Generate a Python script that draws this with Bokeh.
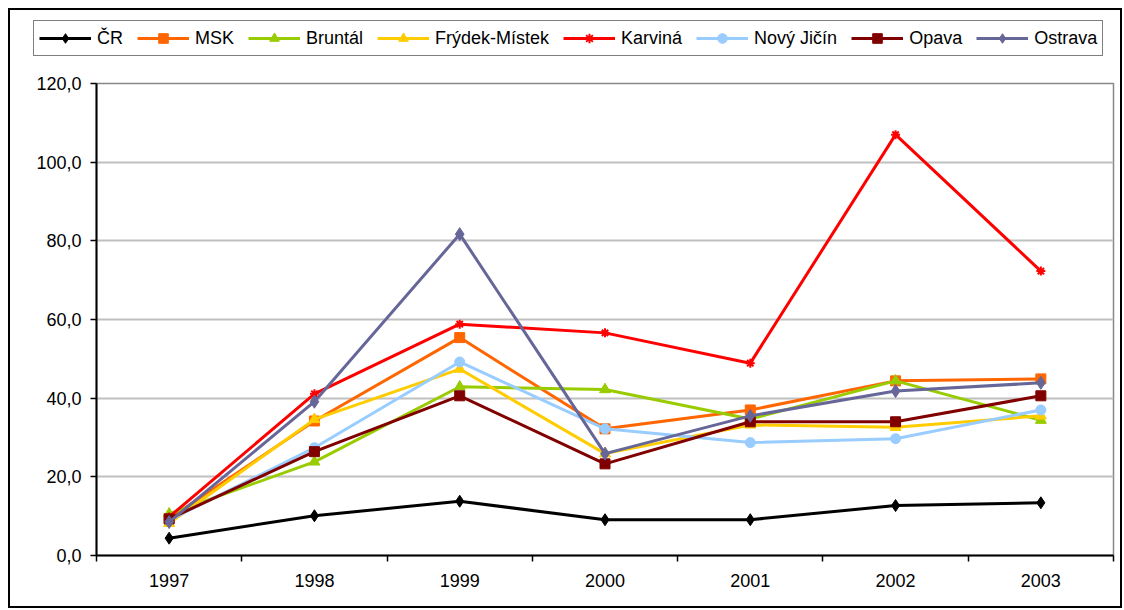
from bokeh.plotting import figure
from bokeh.layouts import column
from bokeh.models import FixedTicker, Legend, LegendItem
from bokeh.embed import file_html
from bokeh.resources import INLINE

years = ["1997", "1998", "1999", "2000", "2001", "2002", "2003"]
cr = [4.4, 10.1, 13.8, 9.1, 9.1, 12.7, 13.4]
msk = [9.4, 34.2, 55.4, 32.2, 37.0, 44.4, 44.9]
bruntal = [10.6, 23.8, 42.9, 42.2, 34.7, 44.4, 34.4]
frydek = [8.2, 34.6, 47.4, 25.9, 33.2, 32.6, 35.5]
karvina = [9.8, 41.1, 58.8, 56.6, 48.9, 107.0, 72.3]
novy_jicin = [9.0, 27.4, 49.2, 32.2, 28.7, 29.7, 37.0]
opava = [9.3, 26.4, 40.6, 23.3, 34.0, 34.0, 40.6]
ostrava = [8.5, 39.1, 81.7, 25.9, 35.5, 41.8, 43.9]

names = ["ČR", "MSK", "Bruntál", "Frýdek-Místek", "Karviná", "Nový Jičín", "Opava", "Ostrava"]
series = [cr, msk, bruntal, frydek, karvina, novy_jicin, opava, ostrava]
colors = ["#000000", "#FF6600", "#99CC00", "#FFCC00", "#FF0000", "#99CCFF", "#800000", "#666699"]
markers = ["diamond", "square", "triangle", "triangle", "asterisk", "circle", "square", "diamond"]
sizes = [12, 10, 11, 11, 9, 10, 10, 13]

y_ticks = [0, 20, 40, 60, 80, 100, 120]
y_tick_labels = ["0,0", "20,0", "40,0", "60,0", "80,0", "100,0", "120,0"]

xpos = list(range(len(years)))
FONT = "Liberation Sans"

# ---- main chart ----
p = figure(width=1110, height=538, output_backend="svg", toolbar_location=None,
           x_range=(-0.5, len(years) - 0.5), y_range=(0, 120),
           min_border_left=86, min_border_right=7, min_border_top=15, min_border_bottom=51)
p.frame_align = False
p.background_fill_color = "white"
p.border_fill_color = "white"
p.outline_line_color = "#888888"
p.outline_line_width = 1.5

p.xaxis.ticker = FixedTicker(ticks=xpos, minor_ticks=[i - 0.5 for i in range(len(years) + 1)])
p.xaxis.major_label_overrides = {i: years[i] for i in xpos}
p.xaxis.major_tick_out = 0
p.xaxis.major_tick_in = 0
p.xaxis.minor_tick_out = 6
p.xaxis.minor_tick_in = 0
p.xaxis.minor_tick_line_color = "black"
p.xaxis.minor_tick_line_width = 1.5
p.xaxis.axis_line_color = "black"
p.xaxis.axis_line_width = 2
p.xaxis.major_label_standoff = 12
p.xaxis.major_label_text_font = FONT
p.xaxis.major_label_text_font_size = "18px"
p.xaxis.major_label_text_color = "black"

p.yaxis.ticker = FixedTicker(ticks=y_ticks, minor_ticks=[])
p.yaxis.major_label_overrides = {t: l for t, l in zip(y_ticks, y_tick_labels)}
p.yaxis.major_tick_out = 6
p.yaxis.major_tick_in = 0
p.yaxis.major_tick_line_color = "black"
p.yaxis.major_tick_line_width = 1.5
p.yaxis.axis_line_color = "black"
p.yaxis.axis_line_width = 2
p.yaxis.major_label_standoff = 9
p.yaxis.major_label_text_font = FONT
p.yaxis.major_label_text_font_size = "18px"
p.yaxis.major_label_text_color = "black"

p.xgrid.grid_line_color = None
p.ygrid.grid_line_color = "#C0C0C0"
p.ygrid.grid_line_width = 2
p.ygrid.ticker = FixedTicker(ticks=y_ticks)

for vals, col, mk, sz in zip(series, colors, markers, sizes):
    p.line(xpos, vals, line_color=col, line_width=3)
    p.scatter(xpos, vals, marker=mk, size=sz, fill_color=col, line_color=col,
              line_width=2 if mk == "asterisk" else 1)

# ---- legend strip (separate figure above the chart; its data lie outside its view) ----
lf = figure(width=1110, height=58, output_backend="svg", toolbar_location=None,
            x_axis_type=None, y_axis_type=None, x_range=(-20, -19), y_range=(-20, -19),
            min_border=0, min_border_left=0, min_border_right=0,
            min_border_top=0, min_border_bottom=0)
lf.frame_align = False
lf.outline_line_color = None
lf.background_fill_color = "white"
lf.border_fill_color = "white"
lf.xgrid.visible = False
lf.ygrid.visible = False

items = []
for name, vals, col, mk, sz in zip(names, series, colors, markers, sizes):
    r1 = lf.line(xpos, vals, line_color=col, line_width=3)
    r2 = lf.scatter(xpos, vals, marker=mk, size=sz, fill_color=col, line_color=col,
                    line_width=2 if mk == "asterisk" else 1)
    items.append(LegendItem(label=name, renderers=[r1, r2]))

legend = Legend(items=items, orientation="horizontal", location=(23, 12))
legend.label_text_font = FONT
legend.label_text_font_size = "18px"
legend.label_text_color = "black"
legend.glyph_width = 52
legend.glyph_height = 24
legend.label_height = 24
legend.label_standoff = 6
legend.spacing = 14
legend.padding = 5
legend.margin = 0
legend.border_line_color = "black"
legend.border_line_width = 1.5
legend.background_fill_color = "white"
legend.background_fill_alpha = 1
lf.add_layout(legend, "center")

layout = column(lf, p, spacing=0)
layout.styles = {"border": "2px solid black", "margin-left": "8px", "margin-top": "8px",
                 "background-color": "white"}

open("out.html", "w").write(file_html(layout, INLINE))
